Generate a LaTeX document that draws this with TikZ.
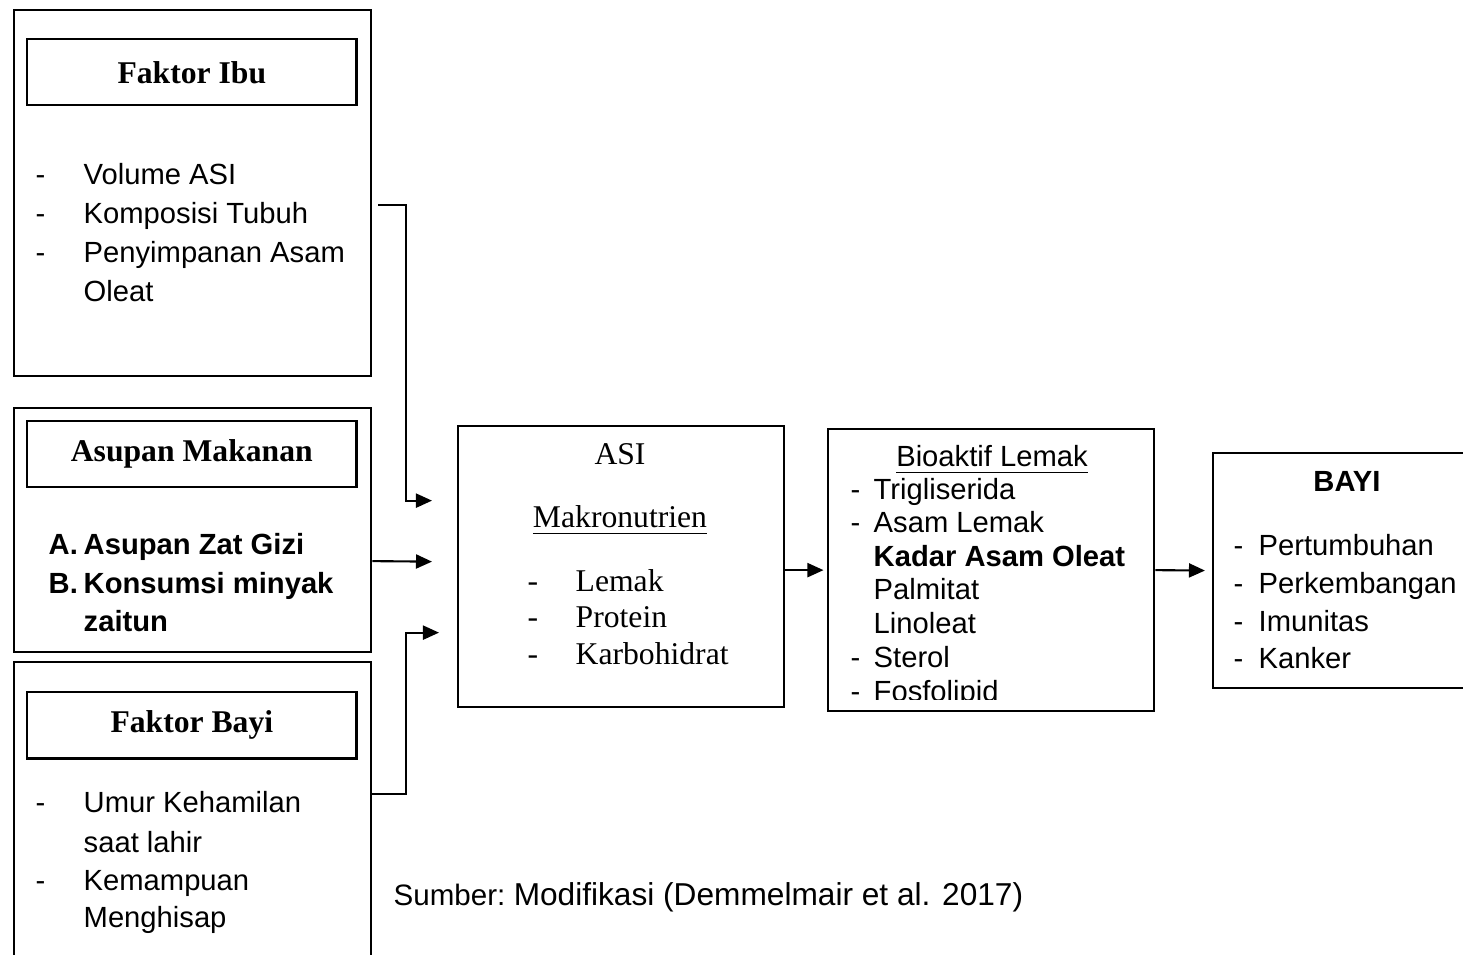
\documentclass[tikz,border=0pt]{standalone}
\usepackage{fontspec}
\setmainfont{Liberation Serif}
\setsansfont{Liberation Sans}
\usetikzlibrary{arrows.meta,positioning}
\tikzset{%
	outerbox/.style={draw, line width=0.6pt, anchor=north west, inner sep=0pt},
	titlebox/.style={draw, line width=0.7pt, anchor=north west, inner sep=0pt,
		minimum width=3.29cm, minimum height=0.66cm,
		font=\fontsize{9}{11}\selectfont\bfseries},
	item/.style={anchor=base west, inner sep=0pt,
		font=\sffamily\fontsize{8.3}{10}\selectfont},
	bolditem/.style={item, font=\sffamily\bfseries\fontsize{8.3}{10}\selectfont},
	seritem/.style={anchor=base west, inner sep=0pt,
		font=\fontsize{9}{11}\selectfont},
	link/.style={-{Triangle[length=1.6mm,width=1.4mm]}, line width=0.6pt},
}

\begin{document}
\begin{tikzpicture}[x=0.01cm, y=-0.01cm]

    \path[use as bounding box, clip] (0,0) rectangle (1463,955);

    % left column
    \node [outerbox, minimum width=3.57cm, minimum height=3.66cm] (Ibu) at (13,9) {};
    \node [titlebox] (IbuTitle) at (26,38) {Faktor Ibu};
    \node [item] (IbuD1) at (35,185) {-};
    \node [item] (IbuD2) at (35,224) {-};
    \node [item] (IbuD3) at (35,263) {-};
    \node [item] (Ibu1) at (83,185) {Volume ASI};
    \node [item] (Ibu2) at (83,224) {Komposisi Tubuh};
    \node [item] (Ibu3) at (83,263) {Penyimpanan Asam};
    \node [item] (Ibu4) at (83,302) {Oleat};

    \node [outerbox, minimum width=3.57cm, minimum height=2.44cm] (Asupan) at (13,407) {};
    \node [titlebox] (AsupanTitle) at (26,420) {Asupan Makanan};
    \node [bolditem] (AsupanA) at (48,555) {A.};
    \node [bolditem] (AsupanB) at (48,594) {B.};
    \node [bolditem] (Asupan1) at (83,555) {Asupan Zat Gizi};
    \node [bolditem] (Asupan2) at (83,594) {Konsumsi minyak};
    \node [bolditem] (Asupan3) at (83,632) {zaitun};

    \node [outerbox, minimum width=3.57cm, minimum height=3.2cm] (BayiF) at (13,661) {};
    \node [titlebox] (BayiFTitle) at (26,691) {Faktor Bayi};
    \node [item] (BayiFD1) at (35,813) {-};
    \node [item] (BayiFD2) at (35,890) {-};
    \node [item] (BayiF1) at (83,813) {Umur Kehamilan};
    \node [item] (BayiF2) at (83,852) {saat lahir};
    \node [item] (BayiF3) at (83,890) {Kemampuan};
    \node [item] (BayiF4) at (83,927) {Menghisap};

    % ASI
    \node [outerbox, minimum width=3.26cm, minimum height=2.81cm] (ASI) at (457,425) {};
    \node [seritem, anchor=base] (ASITitle) at (620,465) {ASI};
    \node [seritem, anchor=base] (Makro) at (620,528) {\underline{Makronutrien}};
    \node [seritem] (ASID1) at (527,592) {-};
    \node [seritem] (ASID2) at (527,628) {-};
    \node [seritem] (ASID3) at (527,665) {-};
    \node [seritem] (ASI1) at (575,592) {Lemak};
    \node [seritem] (ASI2) at (575,628) {Protein};
    \node [seritem] (ASI3) at (575,665) {Karbohidrat};

    % bioaktif lemak
    \node [outerbox, minimum width=3.26cm, minimum height=2.82cm] (Bio) at (827,428) {};
    \node [item, anchor=base] (BioTitle) at (992,467) {\underline{Bioaktif Lemak}};
    \node [item] (BioD1) at (850,500) {-};
    \node [item] (BioD2) at (850,533) {-};
    \node [item] (BioD3) at (850,668) {-};
    \node [item] (Bio1) at (873,500) {Trigliserida};
    \node [item] (Bio2) at (873,533) {Asam Lemak};
    \node [bolditem] (Bio3) at (873,567) {Kadar Asam Oleat};
    \node [item] (Bio4) at (873,600) {Palmitat};
    \node [item] (Bio5) at (873,634) {Linoleat};
    \node [item] (Bio6) at (873,668) {Sterol};
    \begin{scope}
    \clip (827,428) rectangle (1153,700);
    \node [item] (BioD4) at (850,702) {-};
    \node [item] (Bio7) at (873,702) {Fosfolipid};
    \end{scope}

    % bayi
    \node [outerbox, minimum width=3.0cm, minimum height=2.35cm] (Bayi) at (1212,452) {};
    \node [bolditem, anchor=base] (BayiTitle) at (1347,492) {BAYI};
    \node [item] (BayiD1) at (1233,556) {-};
    \node [item] (BayiD2) at (1233,594) {-};
    \node [item] (BayiD3) at (1233,632) {-};
    \node [item] (BayiD4) at (1233,669) {-};
    \node [item] (Bayi1) at (1258,556) {Pertumbuhan};
    \node [item] (Bayi2) at (1258,594) {Perkembangan};
    \node [item] (Bayi3) at (1258,632) {Imunitas};
    \node [item] (Bayi4) at (1258,669) {Kanker};

    \node [anchor=base west, inner sep=0pt, font=\sffamily\fontsize{8.4}{10}\selectfont] (Sumber) at (393,905) {Sumber:};
    \node [inner sep=0pt, font=\sffamily\fontsize{9}{11}\selectfont] (Ref) [right=0.07cm of Sumber.base east, anchor=base west] {Modifikasi (Demmelmair et al. 2017)};

    % connectors
    \draw [link] ([shift={(6,12)}]Ibu.east) -- ++(28,0) |- ([shift={(-25,-66)}]ASI.west);
    \draw [link] ([shift={(0,31)}]Asupan.east) -- ([shift={(-25,-5)}]ASI.west);
    \draw [link] ([shift={(0,-28)}]BayiF.east) -- ++(34,0) |- ([shift={(-18,66)}]ASI.west);
    \draw [link, shorten >=1pt] (ASI.east |- Bio.west) -- (Bio.west);
    \draw [link, shorten >=2pt] (Bio.east) -- (Bayi.west);

\end{tikzpicture}
\end{document}
